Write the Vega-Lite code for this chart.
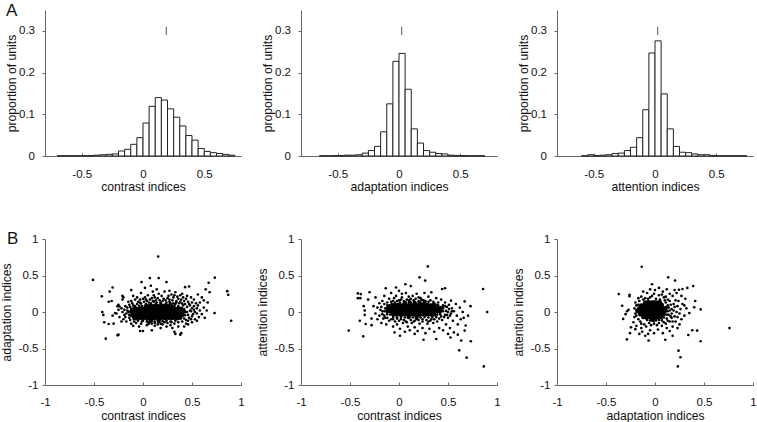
{"$schema":"https://vega.github.io/schema/vega-lite/v6.json","background":"white","bounds":"flush","padding":{"left":0,"top":1,"right":0,"bottom":0},"columns":3,"spacing":{"column":60,"row":83},
"config":{"view":{"stroke":null},"font":"Liberation Sans","axis":{"grid":false,"domainColor":"#666","tickColor":"#666","domainWidth":1,"tickWidth":1,"labelColor":"#111","titleColor":"#111","labelFontSize":11.5,"titleFontSize":12.2,"titleFontWeight":"normal","labelFlush":false,"labelOverlap":false},"title":{"fontSize":17,"fontWeight":"normal","color":"#111","anchor":"start","frame":"group"}},
"datasets":{
"h1":[{"s":-0.7,"e":-0.65,"p":0.0005},{"s":-0.65,"e":-0.6,"p":0.0005},{"s":-0.6,"e":-0.55,"p":0.0005},{"s":-0.55,"e":-0.5,"p":0.0005},{"s":-0.5,"e":-0.45,"p":0.0005},{"s":-0.45,"e":-0.4,"p":0.001},{"s":-0.4,"e":-0.35,"p":0.002},{"s":-0.35,"e":-0.3,"p":0.003},{"s":-0.3,"e":-0.25,"p":0.004},{"s":-0.25,"e":-0.2,"p":0.005},{"s":-0.2,"e":-0.15,"p":0.012},{"s":-0.15,"e":-0.1,"p":0.016},{"s":-0.1,"e":-0.05,"p":0.028},{"s":-0.05,"e":0,"p":0.044},{"s":0,"e":0.05,"p":0.079},{"s":0.05,"e":0.1,"p":0.119},{"s":0.1,"e":0.15,"p":0.14},{"s":0.15,"e":0.2,"p":0.134},{"s":0.2,"e":0.25,"p":0.113},{"s":0.25,"e":0.3,"p":0.093},{"s":0.3,"e":0.35,"p":0.072},{"s":0.35,"e":0.4,"p":0.049},{"s":0.4,"e":0.45,"p":0.038},{"s":0.45,"e":0.5,"p":0.018},{"s":0.5,"e":0.55,"p":0.011},{"s":0.55,"e":0.6,"p":0.008},{"s":0.6,"e":0.65,"p":0.006},{"s":0.65,"e":0.7,"p":0.004},{"s":0.7,"e":0.75,"p":0.002}],
"h2":[{"s":-0.65,"e":-0.6,"p":0.0005},{"s":-0.6,"e":-0.55,"p":0.0005},{"s":-0.55,"e":-0.5,"p":0.001},{"s":-0.5,"e":-0.45,"p":0.001},{"s":-0.45,"e":-0.4,"p":0.002},{"s":-0.4,"e":-0.35,"p":0.002},{"s":-0.35,"e":-0.3,"p":0.003},{"s":-0.3,"e":-0.25,"p":0.007},{"s":-0.25,"e":-0.2,"p":0.013},{"s":-0.2,"e":-0.15,"p":0.023},{"s":-0.15,"e":-0.1,"p":0.058},{"s":-0.1,"e":-0.05,"p":0.125},{"s":-0.05,"e":0,"p":0.227},{"s":0,"e":0.05,"p":0.246},{"s":0.05,"e":0.1,"p":0.16},{"s":0.1,"e":0.15,"p":0.065},{"s":0.15,"e":0.2,"p":0.031},{"s":0.2,"e":0.25,"p":0.013},{"s":0.25,"e":0.3,"p":0.009},{"s":0.3,"e":0.35,"p":0.006},{"s":0.35,"e":0.4,"p":0.005},{"s":0.4,"e":0.45,"p":0.002},{"s":0.45,"e":0.5,"p":0.001},{"s":0.5,"e":0.55,"p":0.001},{"s":0.55,"e":0.6,"p":0.0005},{"s":0.6,"e":0.65,"p":0.0005},{"s":0.65,"e":0.7,"p":0.0005}],
"h3":[{"s":-0.6,"e":-0.55,"p":0.0005},{"s":-0.55,"e":-0.5,"p":0.003},{"s":-0.5,"e":-0.45,"p":0.001},{"s":-0.45,"e":-0.4,"p":0.002},{"s":-0.4,"e":-0.35,"p":0.003},{"s":-0.35,"e":-0.3,"p":0.006},{"s":-0.3,"e":-0.25,"p":0.007},{"s":-0.25,"e":-0.2,"p":0.013},{"s":-0.2,"e":-0.15,"p":0.021},{"s":-0.15,"e":-0.1,"p":0.044},{"s":-0.1,"e":-0.05,"p":0.111},{"s":-0.05,"e":0,"p":0.247},{"s":0,"e":0.05,"p":0.276},{"s":0.05,"e":0.1,"p":0.149},{"s":0.1,"e":0.15,"p":0.065},{"s":0.15,"e":0.2,"p":0.023},{"s":0.2,"e":0.25,"p":0.009},{"s":0.25,"e":0.3,"p":0.008},{"s":0.3,"e":0.35,"p":0.005},{"s":0.35,"e":0.4,"p":0.003},{"s":0.4,"e":0.45,"p":0.003},{"s":0.45,"e":0.5,"p":0.001},{"s":0.5,"e":0.55,"p":0.0005},{"s":0.55,"e":0.6,"p":0.0005},{"s":0.6,"e":0.65,"p":0.0005},{"s":0.65,"e":0.7,"p":0.0005},{"s":0.7,"e":0.75,"p":0.0005}],
"s1":[{"x":-0.51,"y":0.44},{"x":0.155,"y":0.76},{"x":0.07,"y":0.465},{"x":0.16,"y":0.465},{"x":-0.015,"y":0.41},{"x":0.24,"y":0.41},{"x":0.733,"y":0.47},{"x":0.67,"y":0.4},{"x":0.86,"y":0.285},{"x":0.87,"y":0.235},{"x":0.9,"y":-0.12},{"x":0.73,"y":-0.015},{"x":-0.31,"y":0.335},{"x":-0.34,"y":0.28},{"x":-0.42,"y":0.215},{"x":-0.35,"y":0.14},{"x":-0.32,"y":0.15},{"x":-0.38,"y":-0.365},{"x":-0.26,"y":-0.32},{"x":-0.25,"y":-0.31},{"x":-0.415,"y":0},{"x":-0.405,"y":-0.04},{"x":-0.395,"y":-0.14},{"x":-0.35,"y":-0.165},{"x":-0.3,"y":-0.16},{"x":-0.31,"y":-0.05},{"x":-0.285,"y":-0.015},{"x":-0.26,"y":0.08},{"x":-0.24,"y":0.075},{"x":-0.21,"y":0.22},{"x":-0.21,"y":0.17},
{"x":-0.2,"y":0.2},{"x":-0.12,"y":0.3},{"x":-0.1,"y":0.22},{"x":-0.06,"y":0.2},{"x":-0.02,"y":0.26},{"x":0,"y":0.18},{"x":0.02,"y":0.33},{"x":0.05,"y":0.23},{"x":0.08,"y":0.36},{"x":0.1,"y":0.28},{"x":0.12,"y":0.2},{"x":0.14,"y":0.31},{"x":0.16,"y":0.25},{"x":0.19,"y":0.22},{"x":0.22,"y":0.28},{"x":0.25,"y":0.19},{"x":0.27,"y":0.29},{"x":0.29,"y":0.24},{"x":0.31,"y":0.2},{"x":0.33,"y":0.27},{"x":0.36,"y":0.18},{"x":0.38,"y":0.23},{"x":0.41,"y":0.2},{"x":0.43,"y":0.34},{"x":0.45,"y":0.22},{"x":0.47,"y":0.35},{"x":0.49,"y":0.2},{"x":0.52,"y":0.17},{"x":0.56,"y":0.24},{"x":0.58,"y":0.13},{"x":0.62,"y":0.16},{"x":0.64,"y":0.31},{"x":0.6,"y":0.2},{"x":0.68,"y":0.27},{"x":0.66,"y":0.13},{"x":-0.15,"y":0.14},{"x":-0.05,"y":0.14},{"x":0.04,"y":0.15},{"x":0.07,"y":0.17},{"x":0.1,"y":0.15},{"x":0.17,"y":0.16},{"x":0.2,"y":0.15},{"x":0.23,"y":0.16},{"x":0.27,"y":0.14},{"x":0.3,"y":0.16},{"x":0.34,"y":0.15},{"x":0.38,"y":0.14},{"x":0.42,"y":0.15},{"x":0.46,"y":0.14},{"x":0.5,"y":0.13},{"x":0.54,"y":0.12},{"x":-0.25,"y":0.1},{"x":-0.22,"y":0.05},{"x":-0.27,"y":-0.02},{"x":-0.24,"y":-0.07},{"x":-0.2,"y":-0.1},{"x":-0.18,"y":0.08},{"x":-0.17,"y":-0.13},{"x":-0.14,"y":0.1},{"x":-0.12,"y":-0.16},{"x":-0.21,"y":0},{"x":-0.19,"y":-0.04},{"x":0.52,"y":0.08},{"x":0.55,"y":0.05},{"x":0.58,"y":0.02},{"x":0.6,"y":-0.03},{"x":0.57,"y":-0.07},{"x":0.53,"y":-0.1},{"x":0.62,"y":0.06},{"x":0.65,"y":0.02},{"x":0.63,"y":-0.08},{"x":0.5,"y":-0.14},{"x":0.46,"y":-0.17},{"x":0.55,"y":-0.12},{"x":0.48,"y":0.09},{"x":-0.1,"y":-0.19},{"x":-0.04,"y":-0.2},{"x":-0.03,"y":-0.26},{"x":0,"y":-0.26},{"x":0.04,"y":-0.18},{"x":0.09,"y":-0.25},{"x":0.12,"y":-0.19},{"x":0.18,"y":-0.22},{"x":0.2,"y":-0.17},{"x":0.24,"y":-0.2},{"x":0.28,"y":-0.18},{"x":0.32,"y":-0.27},{"x":0.33,"y":-0.3},{"x":0.36,"y":-0.2},{"x":0.38,"y":-0.31},{"x":0.39,"y":-0.29},{"x":0.42,"y":-0.2},{"x":0.44,"y":-0.16},{"x":0.3,"y":-0.22},{"x":0.15,"y":-0.17},{"x":-0.07,"y":-0.15},{"x":0.06,"y":-0.16},
{"x":-0.22,"y":-0.13},{"x":-0.25,"y":0.03},{"x":-0.19,"y":0.03},{"x":-0.18,"y":-0.07},{"x":-0.16,"y":0.06},{"x":-0.13,"y":-0.11},{"x":-0.11,"y":0.12},{"x":-0.09,"y":-0.13},{"x":-0.08,"y":0.17},{"x":-0.03,"y":0.17},{"x":-0.02,"y":-0.16},{"x":0.01,"y":0.14},{"x":0.02,"y":0.2},{"x":0.09,"y":-0.16},{"x":0.11,"y":0.23},{"x":0.13,"y":0.16},{"x":0.15,"y":0.19},{"x":0.18,"y":-0.16},{"x":0.21,"y":0.18},{"x":0.25,"y":-0.15},{"x":0.26,"y":0.22},{"x":0.32,"y":-0.16},{"x":0.32,"y":0.23},{"x":0.36,"y":-0.14},{"x":0.37,"y":0.12},{"x":0.4,"y":-0.13},{"x":0.4,"y":0.25},{"x":0.44,"y":0.18},{"x":0.44,"y":-0.11},{"x":0.47,"y":-0.08},{"x":0.47,"y":0.11},{"x":0.5,"y":-0.06},{"x":0.5,"y":0.05},{"x":0.53,"y":0},{"x":0.55,"y":-0.02},{"x":0.56,"y":0.09},
{"x":-0.17,"y":-0.02},{"x":-0.16,"y":0.02},{"x":-0.14,"y":-0.08},{"x":-0.13,"y":0.07},{"x":-0.12,"y":0.15},{"x":-0.1,"y":0.09},{"x":-0.09,"y":-0.1},{"x":-0.06,"y":0.11},{"x":-0.05,"y":-0.12},{"x":-0.03,"y":0.13},{"x":-0.01,"y":-0.13},{"x":0.03,"y":0.17},{"x":0.05,"y":-0.14},{"x":0.06,"y":0.13},{"x":0.09,"y":0.19},{"x":0.11,"y":0.14},{"x":0.12,"y":-0.15},{"x":0.14,"y":0.13},{"x":0.16,"y":-0.14},{"x":0.18,"y":0.13},{"x":0.22,"y":-0.14},{"x":0.24,"y":0.13},{"x":0.27,"y":0.17},{"x":0.29,"y":-0.14},{"x":0.31,"y":0.12},{"x":0.34,"y":0.13},{"x":0.35,"y":0.21},{"x":0.39,"y":0.17},{"x":0.43,"y":0.11},{"x":0.45,"y":0.07},{"x":0.46,"y":-0.12},{"x":0.48,"y":0.02},{"x":0.49,"y":-0.1},{"x":0.51,"y":-0.03},{"x":0.52,"y":0.03},
{"x":0,"y":-0.12},{"x":0.04,"y":-0.125},{"x":0.08,"y":-0.12},{"x":0.12,"y":-0.13},{"x":0.16,"y":-0.12},{"x":0.2,"y":-0.125},{"x":0.24,"y":-0.12},{"x":0.28,"y":-0.13},{"x":0.33,"y":-0.12},
{"x":-0.1,"y":-0.08},{"x":-0.07,"y":-0.085},{"x":-0.04,"y":-0.08},{"x":-0.01,"y":-0.085},{"x":0.02,"y":-0.08},{"x":0.05,"y":-0.085},{"x":0.08,"y":-0.08},{"x":0.11,"y":-0.085},{"x":0.14,"y":-0.08},{"x":0.17,"y":-0.085},{"x":0.2,"y":-0.08},{"x":0.23,"y":-0.085},{"x":0.26,"y":-0.08},{"x":0.29,"y":-0.085},{"x":0.32,"y":-0.08},{"x":0.35,"y":-0.085},{"x":0.38,"y":-0.08},{"x":0.42,"y":-0.09},
{"x":-0.14,"y":-0.04},{"x":-0.11,"y":-0.045},{"x":-0.08,"y":-0.04},{"x":-0.05,"y":-0.045},{"x":-0.02,"y":-0.04},{"x":0.01,"y":-0.045},{"x":0.04,"y":-0.04},{"x":0.07,"y":-0.045},{"x":0.1,"y":-0.04},{"x":0.13,"y":-0.045},{"x":0.16,"y":-0.04},{"x":0.19,"y":-0.045},{"x":0.22,"y":-0.04},{"x":0.25,"y":-0.045},{"x":0.28,"y":-0.04},{"x":0.31,"y":-0.045},{"x":0.34,"y":-0.04},{"x":0.37,"y":-0.045},{"x":0.4,"y":-0.04},{"x":0.43,"y":-0.045},{"x":0.46,"y":-0.04},
{"x":-0.15,"y":0},{"x":-0.12,"y":0.005},{"x":-0.09,"y":0},{"x":-0.06,"y":0.005},{"x":-0.03,"y":0},{"x":0,"y":0.005},{"x":0.03,"y":0},{"x":0.06,"y":0.005},{"x":0.09,"y":0},{"x":0.12,"y":0.005},{"x":0.15,"y":0},{"x":0.18,"y":0.005},{"x":0.21,"y":0},{"x":0.24,"y":0.005},{"x":0.27,"y":0},{"x":0.3,"y":0.005},{"x":0.33,"y":0},{"x":0.36,"y":0.005},{"x":0.39,"y":0},{"x":0.42,"y":0.005},{"x":0.45,"y":0},{"x":0.49,"y":0.01},
{"x":-0.12,"y":0.04},{"x":-0.09,"y":0.045},{"x":-0.06,"y":0.04},{"x":-0.03,"y":0.045},{"x":0,"y":0.04},{"x":0.03,"y":0.045},{"x":0.06,"y":0.04},{"x":0.09,"y":0.045},{"x":0.12,"y":0.04},{"x":0.15,"y":0.045},{"x":0.18,"y":0.04},{"x":0.21,"y":0.045},{"x":0.24,"y":0.04},{"x":0.27,"y":0.045},{"x":0.3,"y":0.04},{"x":0.33,"y":0.045},{"x":0.36,"y":0.04},{"x":0.39,"y":0.045},{"x":0.42,"y":0.04},
{"x":-0.08,"y":0.08},{"x":-0.04,"y":0.085},{"x":-0.01,"y":0.08},{"x":0.02,"y":0.085},{"x":0.05,"y":0.08},{"x":0.08,"y":0.085},{"x":0.11,"y":0.08},{"x":0.14,"y":0.085},{"x":0.17,"y":0.08},{"x":0.2,"y":0.085},{"x":0.23,"y":0.08},{"x":0.26,"y":0.085},{"x":0.29,"y":0.08},{"x":0.32,"y":0.085},{"x":0.36,"y":0.08},{"x":0.41,"y":0.09},
{"x":-0.02,"y":0.115},{"x":0.03,"y":0.11},{"x":0.08,"y":0.12},{"x":0.13,"y":0.11},{"x":0.18,"y":0.12},{"x":0.23,"y":0.11},{"x":0.28,"y":0.12},{"x":0.33,"y":0.11},{"x":0.4,"y":0.115}],
"s2":[{"x":0.294,"y":0.625},{"x":0.21,"y":0.475},{"x":0.267,"y":0.43},{"x":0.858,"y":0.315},{"x":0.9,"y":0},{"x":0.865,"y":-0.745},{"x":0.69,"y":-0.625},{"x":0.615,"y":-0.525},{"x":0.733,"y":-0.4},{"x":0.635,"y":-0.39},{"x":-0.513,"y":-0.255},{"x":-0.365,"y":-0.333},{"x":-0.42,"y":0.255},{"x":-0.39,"y":0.245},{"x":-0.42,"y":0.19},{"x":-0.395,"y":0.19},{"x":-0.3,"y":0.27},{"x":-0.315,"y":0.17},{"x":-0.24,"y":0.2},{"x":-0.135,"y":0.325},{"x":0.065,"y":0.38},{"x":0.12,"y":0.355},{"x":-0.03,"y":0.335},{"x":0.44,"y":0.315},{"x":0.47,"y":0.325},{"x":0.53,"y":0.155},{"x":0.67,"y":0.145},{"x":0.73,"y":0.08},{"x":0.705,"y":-0.05},{"x":0.68,"y":-0.185},{"x":0.67,"y":-0.255},{"x":0.6,"y":-0.31},{"x":0.525,"y":-0.35},{"x":0.5,"y":-0.3},{"x":0.38,"y":-0.37},{"x":0.25,"y":-0.38},{"x":0.01,"y":-0.325},{"x":-0.045,"y":-0.28},{"x":0.16,"y":-0.3},{"x":-0.4,"y":-0.12},{"x":-0.34,"y":-0.165},{"x":-0.28,"y":-0.18},{"x":-0.36,"y":0.08},{"x":-0.35,"y":0.02},{"x":-0.35,"y":-0.04},
{"x":-0.26,"y":0.08},{"x":-0.28,"y":-0.09},{"x":-0.24,"y":-0.02},{"x":-0.22,"y":0.06},{"x":-0.22,"y":-0.1},{"x":-0.2,"y":0.12},{"x":-0.18,"y":-0.15},{"x":-0.17,"y":0.15},{"x":-0.15,"y":0.22},{"x":-0.14,"y":-0.08},{"x":-0.13,"y":-0.17},{"x":-0.1,"y":0.18},{"x":-0.08,"y":0.26},{"x":-0.06,"y":-0.2},{"x":-0.03,"y":0.22},{"x":-0.02,"y":-0.17},{"x":0,"y":0.29},{"x":0.01,"y":-0.23},{"x":0.03,"y":0.2},{"x":0.04,"y":-0.15},{"x":0.06,"y":-0.27},{"x":0.07,"y":0.26},{"x":0.09,"y":-0.2},{"x":0.1,"y":0.21},{"x":0.11,"y":-0.25},{"x":0.13,"y":-0.15},{"x":0.14,"y":0.22},{"x":0.16,"y":-0.21},{"x":0.18,"y":0.25},{"x":0.19,"y":-0.26},{"x":0.21,"y":-0.16},{"x":0.22,"y":0.19},{"x":0.24,"y":-0.22},{"x":0.26,"y":0.26},{"x":0.27,"y":-0.29},{"x":0.29,"y":-0.16},{"x":0.3,"y":0.21},{"x":0.31,"y":-0.23},{"x":0.33,"y":0.27},{"x":0.35,"y":-0.15},{"x":0.36,"y":-0.27},{"x":0.38,"y":0.19},{"x":0.39,"y":-0.13},{"x":0.41,"y":-0.22},{"x":0.43,"y":0.17},{"x":0.44,"y":-0.11},{"x":0.45,"y":-0.25},{"x":0.47,"y":0.13},{"x":0.48,"y":-0.17},{"x":0.5,"y":-0.08},{"x":0.51,"y":0.1},{"x":0.52,"y":-0.22},{"x":0.54,"y":0.05},{"x":0.55,"y":-0.12},{"x":0.56,"y":-0.28},{"x":0.58,"y":0.11},{"x":0.59,"y":-0.05},{"x":0.6,"y":-0.17},{"x":0.62,"y":0.06},{"x":0.63,"y":-0.1},{"x":0.65,"y":0},{"x":0.66,"y":-0.08},{"x":-0.12,"y":0.13},{"x":-0.1,"y":-0.12},{"x":-0.06,"y":0.15},{"x":0,"y":0.16},{"x":0.05,"y":0.15},{"x":0.1,"y":0.16},{"x":0.15,"y":0.16},{"x":0.2,"y":0.15},{"x":0.25,"y":0.16},{"x":0.3,"y":0.14},{"x":0.35,"y":0.14},{"x":0.4,"y":0.13},{"x":0.47,"y":0.08},{"x":0.05,"y":-0.11},{"x":0.12,"y":-0.11},{"x":0.2,"y":-0.11},{"x":0.28,"y":-0.11},{"x":0.36,"y":-0.1},
{"x":-0.19,"y":0.03},{"x":-0.17,"y":-0.03},{"x":-0.16,"y":-0.09},{"x":-0.2,"y":-0.05},{"x":-0.15,"y":0.11},{"x":-0.08,"y":-0.1},{"x":-0.08,"y":0.14},{"x":-0.04,"y":-0.13},{"x":0,"y":-0.12},{"x":0.02,"y":0.17},{"x":0.08,"y":-0.14},{"x":0.08,"y":0.17},{"x":0.16,"y":-0.12},{"x":0.17,"y":0.18},{"x":0.24,"y":-0.13},{"x":0.23,"y":0.17},{"x":0.32,"y":-0.12},{"x":0.32,"y":0.16},{"x":0.38,"y":0.1},{"x":0.41,"y":-0.09},{"x":0.45,"y":0.09},{"x":0.46,"y":-0.07},{"x":0.49,"y":-0.04},{"x":0.51,"y":0.04},{"x":0.53,"y":-0.02},{"x":0.56,"y":0.01},
{"x":-0.18,"y":0.07},{"x":-0.17,"y":0.01},{"x":-0.15,"y":-0.05},{"x":-0.12,"y":-0.08},{"x":-0.12,"y":0.09},{"x":-0.06,"y":-0.1},{"x":-0.05,"y":0.19},{"x":-0.02,"y":-0.09},{"x":-0.02,"y":0.15},{"x":0.02,"y":-0.1},{"x":0.03,"y":0.25},{"x":0.07,"y":-0.13},{"x":0.12,"y":0.18},{"x":0.15,"y":-0.13},{"x":0.18,"y":-0.1},{"x":0.2,"y":0.2},{"x":0.24,"y":-0.1},{"x":0.27,"y":0.15},{"x":0.3,"y":-0.13},{"x":0.33,"y":-0.1},{"x":0.36,"y":0.12},{"x":0.38,"y":-0.07},{"x":0.4,"y":0.09},{"x":0.43,"y":-0.06},{"x":0.45,"y":0.05},{"x":0.47,"y":-0.04},{"x":0.49,"y":0.07},{"x":0.5,"y":0},{"x":0.52,"y":-0.05},{"x":0.54,"y":0.01},
{"x":-0.06,"y":-0.07},{"x":-0.02,"y":-0.075},{"x":0.02,"y":-0.07},{"x":0.06,"y":-0.075},{"x":0.1,"y":-0.07},{"x":0.14,"y":-0.075},{"x":0.18,"y":-0.07},{"x":0.22,"y":-0.075},{"x":0.26,"y":-0.07},{"x":0.3,"y":-0.075},{"x":0.34,"y":-0.07},
{"x":-0.12,"y":-0.03},{"x":-0.09,"y":-0.035},{"x":-0.06,"y":-0.03},{"x":-0.03,"y":-0.035},{"x":0,"y":-0.03},{"x":0.03,"y":-0.035},{"x":0.06,"y":-0.03},{"x":0.09,"y":-0.035},{"x":0.12,"y":-0.03},{"x":0.15,"y":-0.035},{"x":0.18,"y":-0.03},{"x":0.21,"y":-0.035},{"x":0.24,"y":-0.03},{"x":0.27,"y":-0.035},{"x":0.3,"y":-0.03},{"x":0.33,"y":-0.035},{"x":0.36,"y":-0.03},{"x":0.39,"y":-0.035},{"x":0.42,"y":-0.03},
{"x":-0.15,"y":0.01},{"x":-0.12,"y":0.015},{"x":-0.09,"y":0.01},{"x":-0.06,"y":0.015},{"x":-0.03,"y":0.01},{"x":0,"y":0.015},{"x":0.03,"y":0.01},{"x":0.06,"y":0.015},{"x":0.09,"y":0.01},{"x":0.12,"y":0.015},{"x":0.15,"y":0.01},{"x":0.18,"y":0.015},{"x":0.21,"y":0.01},{"x":0.24,"y":0.015},{"x":0.27,"y":0.01},{"x":0.3,"y":0.015},{"x":0.33,"y":0.01},{"x":0.36,"y":0.015},{"x":0.39,"y":0.01},{"x":0.42,"y":0.015},{"x":0.45,"y":0.01},{"x":0.48,"y":0.015},
{"x":-0.14,"y":0.05},{"x":-0.11,"y":0.055},{"x":-0.08,"y":0.05},{"x":-0.05,"y":0.055},{"x":-0.02,"y":0.05},{"x":0.01,"y":0.055},{"x":0.04,"y":0.05},{"x":0.07,"y":0.055},{"x":0.1,"y":0.05},{"x":0.13,"y":0.055},{"x":0.16,"y":0.05},{"x":0.19,"y":0.055},{"x":0.22,"y":0.05},{"x":0.25,"y":0.055},{"x":0.28,"y":0.05},{"x":0.31,"y":0.055},{"x":0.34,"y":0.05},{"x":0.37,"y":0.055},{"x":0.4,"y":0.05},{"x":0.43,"y":0.055},
{"x":-0.1,"y":0.09},{"x":-0.07,"y":0.095},{"x":-0.04,"y":0.09},{"x":-0.01,"y":0.095},{"x":0.02,"y":0.09},{"x":0.05,"y":0.095},{"x":0.08,"y":0.09},{"x":0.11,"y":0.095},{"x":0.14,"y":0.09},{"x":0.17,"y":0.095},{"x":0.2,"y":0.09},{"x":0.23,"y":0.095},{"x":0.26,"y":0.09},{"x":0.29,"y":0.095},{"x":0.32,"y":0.09},{"x":0.35,"y":0.095},
{"x":-0.04,"y":0.125},{"x":0.01,"y":0.13},{"x":0.06,"y":0.125},{"x":0.11,"y":0.13},{"x":0.16,"y":0.125},{"x":0.21,"y":0.13},{"x":0.26,"y":0.125}],
"s3":[{"x":-0.135,"y":0.62},{"x":0.135,"y":0.475},{"x":0.205,"y":0.43},{"x":0.39,"y":0.355},{"x":0.33,"y":0.33},{"x":0.28,"y":0.315},{"x":0.245,"y":0.305},{"x":-0.37,"y":0.245},{"x":-0.26,"y":0.235},{"x":-0.26,"y":0.215},{"x":-0.335,"y":0.085},{"x":-0.325,"y":-0.095},{"x":-0.285,"y":0.01},{"x":-0.27,"y":0.03},{"x":-0.3,"y":-0.03},{"x":0.76,"y":-0.22},{"x":0.466,"y":-0.4},{"x":0.43,"y":-0.255},{"x":0.38,"y":-0.25},{"x":0.34,"y":-0.315},{"x":0.466,"y":0.035},{"x":0.41,"y":0.15},{"x":0.4,"y":0.065},{"x":0.35,"y":-0.015},{"x":0.24,"y":-0.53},{"x":0.26,"y":-0.62},{"x":0.233,"y":-0.745},{"x":-0.287,"y":-0.375},{"x":-0.065,"y":-0.39},{"x":0.105,"y":-0.38},{"x":-0.1,"y":-0.325},{"x":-0.255,"y":-0.29},{"x":-0.2,"y":-0.235},{"x":-0.245,"y":-0.21},{"x":0.18,"y":-0.325},
{"x":-0.03,"y":0.38},{"x":-0.05,"y":0.31},{"x":-0.12,"y":0.28},{"x":-0.08,"y":0.26},{"x":0,"y":0.3},{"x":0.04,"y":0.33},{"x":0.08,"y":0.28},{"x":0.12,"y":0.31},{"x":0.15,"y":0.25},{"x":0.2,"y":0.3},{"x":0.18,"y":0.22},{"x":0.22,"y":0.26},{"x":0.27,"y":0.22},{"x":0.31,"y":0.18},{"x":0.3,"y":0.09},{"x":0.32,"y":0.05},{"x":0.28,"y":0.11},{"x":0.26,"y":0.04},{"x":0.3,"y":-0.05},{"x":0.27,"y":-0.1},{"x":0.25,"y":-0.17},{"x":0.23,"y":-0.22},{"x":0.24,"y":0.15},{"x":0.21,"y":0.16},{"x":0.2,"y":0.07},{"x":0.22,"y":0},{"x":0.2,"y":-0.06},{"x":0.21,"y":-0.13},{"x":0.18,"y":-0.2},{"x":0.15,"y":-0.26},{"x":0.12,"y":-0.22},{"x":0.08,"y":-0.29},{"x":0.03,"y":-0.24},{"x":-0.01,"y":-0.29},{"x":-0.05,"y":-0.25},{"x":-0.07,"y":-0.3},{"x":-0.13,"y":-0.27},{"x":-0.14,"y":-0.22},{"x":-0.16,"y":-0.3},{"x":-0.19,"y":-0.19},{"x":-0.22,"y":-0.14},{"x":-0.21,"y":-0.07},{"x":-0.2,"y":-0.02},{"x":-0.21,"y":0.05},{"x":-0.2,"y":0.13},{"x":-0.17,"y":0.19},{"x":-0.14,"y":0.21},{"x":-0.17,"y":0.1},{"x":-0.17,"y":-0.1},{"x":-0.14,"y":-0.16},{"x":-0.09,"y":-0.2},{"x":-0.04,"y":-0.18},{"x":0.02,"y":-0.18},{"x":0.07,"y":-0.19},{"x":0.11,"y":-0.16},{"x":0.15,"y":-0.13},{"x":0.17,"y":-0.08},{"x":0.17,"y":-0.02},{"x":0.17,"y":0.04},{"x":0.16,"y":0.1},{"x":0.13,"y":0.17},{"x":0.09,"y":0.2},{"x":0.04,"y":0.23},{"x":-0.01,"y":0.25},{"x":-0.05,"y":0.2},{"x":-0.1,"y":0.19},{"x":0.14,"y":-0.04},{"x":0.14,"y":0.06},{"x":0.11,"y":0.13},{"x":0.12,"y":-0.09},
{"x":-0.19,"y":0.09},{"x":-0.19,"y":-0.05},{"x":-0.18,"y":0.02},{"x":-0.16,"y":0.15},{"x":-0.15,"y":-0.13},{"x":-0.12,"y":0.17},{"x":-0.11,"y":-0.17},{"x":-0.07,"y":0.18},{"x":-0.06,"y":-0.15},{"x":-0.03,"y":0.22},{"x":-0.01,"y":-0.16},{"x":0.01,"y":0.18},{"x":0.04,"y":-0.15},{"x":0.05,"y":0.17},{"x":0.07,"y":0.24},{"x":0.09,"y":-0.14},{"x":0.1,"y":0.16},{"x":0.11,"y":0.21},{"x":0.13,"y":0.09},{"x":0.13,"y":-0.12},{"x":0.15,"y":0.02},{"x":0.16,"y":-0.06},{"x":0.15,"y":0.15},{"x":0.18,"y":-0.13},{"x":0.19,"y":0.11},{"x":0.19,"y":0.02},{"x":0.23,"y":0.08},{"x":0.23,"y":-0.07},{"x":0.25,"y":-0.02},
{"x":-0.08,"y":-0.11},{"x":-0.05,"y":-0.115},{"x":-0.02,"y":-0.11},{"x":0.01,"y":-0.115},{"x":0.04,"y":-0.11},{"x":0.07,"y":-0.115},
{"x":-0.12,"y":-0.07},{"x":-0.09,"y":-0.075},{"x":-0.06,"y":-0.07},{"x":-0.03,"y":-0.075},{"x":0,"y":-0.07},{"x":0.03,"y":-0.075},{"x":0.06,"y":-0.07},{"x":0.09,"y":-0.075},
{"x":-0.15,"y":-0.03},{"x":-0.12,"y":-0.035},{"x":-0.09,"y":-0.03},{"x":-0.06,"y":-0.035},{"x":-0.03,"y":-0.03},{"x":0,"y":-0.035},{"x":0.03,"y":-0.03},{"x":0.06,"y":-0.035},{"x":0.09,"y":-0.03},{"x":0.12,"y":-0.035},
{"x":-0.17,"y":0.01},{"x":-0.14,"y":0.015},{"x":-0.11,"y":0.01},{"x":-0.08,"y":0.015},{"x":-0.05,"y":0.01},{"x":-0.02,"y":0.015},{"x":0.01,"y":0.01},{"x":0.04,"y":0.015},{"x":0.07,"y":0.01},{"x":0.1,"y":0.015},{"x":0.13,"y":0.01},
{"x":-0.16,"y":0.05},{"x":-0.13,"y":0.055},{"x":-0.1,"y":0.05},{"x":-0.07,"y":0.055},{"x":-0.04,"y":0.05},{"x":-0.01,"y":0.055},{"x":0.02,"y":0.05},{"x":0.05,"y":0.055},{"x":0.08,"y":0.05},{"x":0.11,"y":0.055},
{"x":-0.14,"y":0.09},{"x":-0.11,"y":0.095},{"x":-0.08,"y":0.09},{"x":-0.05,"y":0.095},{"x":-0.02,"y":0.09},{"x":0.01,"y":0.095},{"x":0.04,"y":0.09},{"x":0.07,"y":0.095},
{"x":-0.1,"y":0.13},{"x":-0.07,"y":0.135},{"x":-0.04,"y":0.13},{"x":-0.01,"y":0.135},{"x":0.02,"y":0.13},{"x":0.05,"y":0.135}]
},
"concat":[
{"width":196,"height":146,"title":{"text":"A","dx":-39,"dy":13.7},"layer":[
{"data":{"name":"h1"},"mark":{"type":"bar","fill":"white","stroke":"#222","strokeWidth":1},"encoding":{"x":{"field":"s","type":"quantitative","scale":{"domain":[-0.8,0.8],"nice":false},"axis":{"values":[-0.5,0,0.5],"labelExpr":"''+datum.value","tickSize":-3,"labelPadding":15,"titlePadding":1.1},"title":"contrast indices"},"x2":{"field":"e"},"y":{"field":"p","type":"quantitative","stack":null,"scale":{"domain":[0,0.35],"nice":false},"axis":{"values":[0,0.1,0.2,0.3],"labelExpr":"''+datum.value","tickSize":3,"labelPadding":7.5,"titlePadding":0.3},"title":"proportion of units"},"y2":{"datum":0}}},
{"data":{"values":[{"m":0.19,"lo":0.29,"hi":0.31}]},"mark":{"type":"rule","color":"#555"},"encoding":{"x":{"field":"m","type":"quantitative"},"y":{"field":"lo","type":"quantitative"},"y2":{"field":"hi"}}}]},
{"width":196,"height":146,"layer":[
{"data":{"name":"h2"},"mark":{"type":"bar","fill":"white","stroke":"#222","strokeWidth":1},"encoding":{"x":{"field":"s","type":"quantitative","scale":{"domain":[-0.8,0.8],"nice":false},"axis":{"values":[-0.5,0,0.5],"labelExpr":"''+datum.value","tickSize":-3,"labelPadding":15,"titlePadding":1.1},"title":"adaptation indices"},"x2":{"field":"e"},"y":{"field":"p","type":"quantitative","stack":null,"scale":{"domain":[0,0.35],"nice":false},"axis":{"values":[0,0.1,0.2,0.3],"labelExpr":"''+datum.value","tickSize":3,"labelPadding":7.5,"titlePadding":0.3},"title":"proportion of units"},"y2":{"datum":0}}},
{"data":{"values":[{"m":0.022,"lo":0.29,"hi":0.31}]},"mark":{"type":"rule","color":"#555"},"encoding":{"x":{"field":"m","type":"quantitative"},"y":{"field":"lo","type":"quantitative"},"y2":{"field":"hi"}}}]},
{"width":196,"height":146,"layer":[
{"data":{"name":"h3"},"mark":{"type":"bar","fill":"white","stroke":"#222","strokeWidth":1},"encoding":{"x":{"field":"s","type":"quantitative","scale":{"domain":[-0.8,0.8],"nice":false},"axis":{"values":[-0.5,0,0.5],"labelExpr":"''+datum.value","tickSize":-3,"labelPadding":15,"titlePadding":1.1},"title":"attention indices"},"x2":{"field":"e"},"y":{"field":"p","type":"quantitative","stack":null,"scale":{"domain":[0,0.35],"nice":false},"axis":{"values":[0,0.1,0.2,0.3],"labelExpr":"''+datum.value","tickSize":3,"labelPadding":7.5,"titlePadding":0.3},"title":"proportion of units"},"y2":{"datum":0}}},
{"data":{"values":[{"m":0.022,"lo":0.29,"hi":0.31}]},"mark":{"type":"rule","color":"#555"},"encoding":{"x":{"field":"m","type":"quantitative"},"y":{"field":"lo","type":"quantitative"},"y2":{"field":"hi"}}}]},
{"width":196,"height":146,"title":{"text":"B","dx":-38,"dy":19},"data":{"name":"s1"},"encoding":{"x":{"field":"x","type":"quantitative","scale":{"domain":[-1,1],"nice":false},"axis":{"values":[-1,-0.5,0,0.5,1],"labelExpr":"''+datum.value","tickSize":-3,"labelPadding":14.5,"titlePadding":1.5},"title":"contrast indices"},"y":{"field":"y","type":"quantitative","scale":{"domain":[-1,1],"nice":false},"axis":{"values":[-1,-0.5,0,0.5,1],"labelExpr":"''+datum.value","tickSize":3,"labelPadding":4,"titlePadding":4.5},"title":"adaptation indices"}},"layer":[{"mark":{"type":"circle","color":"black","opacity":1,"size":7}},{"transform":[{"filter":"pow((datum.x-0.15)/0.29,2)+pow((datum.y+0.015)/0.11,2)<1"}],"mark":{"type":"circle","color":"black","opacity":1,"size":20}}]},
{"width":196,"height":146,"data":{"name":"s2"},"encoding":{"x":{"field":"x","type":"quantitative","scale":{"domain":[-1,1],"nice":false},"axis":{"values":[-1,-0.5,0,0.5,1],"labelExpr":"''+datum.value","tickSize":-3,"labelPadding":14.5,"titlePadding":1.5},"title":"contrast indices"},"y":{"field":"y","type":"quantitative","scale":{"domain":[-1,1],"nice":false},"axis":{"values":[-1,-0.5,0,0.5,1],"labelExpr":"''+datum.value","tickSize":3,"labelPadding":4,"titlePadding":4.5},"title":"attention indices"}},"layer":[{"mark":{"type":"circle","color":"black","opacity":1,"size":7}},{"transform":[{"filter":"pow((datum.x-0.15)/0.29,2)+pow((datum.y-0.03)/0.105,2)<1"}],"mark":{"type":"circle","color":"black","opacity":1,"size":20}}]},
{"width":196,"height":146,"data":{"name":"s3"},"encoding":{"x":{"field":"x","type":"quantitative","scale":{"domain":[-1,1],"nice":false},"axis":{"values":[-1,-0.5,0,0.5,1],"labelExpr":"''+datum.value","tickSize":-3,"labelPadding":14.5,"titlePadding":1.5},"title":"adaptation indices"},"y":{"field":"y","type":"quantitative","scale":{"domain":[-1,1],"nice":false},"axis":{"values":[-1,-0.5,0,0.5,1],"labelExpr":"''+datum.value","tickSize":3,"labelPadding":4,"titlePadding":4.5},"title":"attention indices"}},"layer":[{"mark":{"type":"circle","color":"black","opacity":1,"size":7}},{"transform":[{"filter":"pow((datum.x+0.03)/0.155,2)+pow((datum.y-0.03)/0.145,2)<1"}],"mark":{"type":"circle","color":"black","opacity":1,"size":20}}]}
]}
